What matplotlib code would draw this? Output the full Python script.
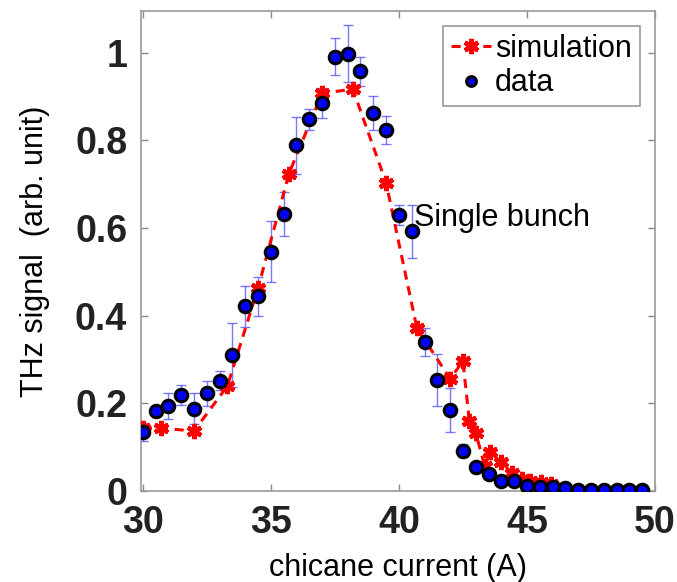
import numpy as np
import matplotlib.pyplot as plt

# measured data (chicane current in A, THz signal in arb. unit)
data_x = [30, 30.5, 31, 31.5, 32, 32.5, 33, 33.5, 34, 34.5,
          35, 35.5, 36, 36.5, 37, 37.5, 38, 38.5, 39, 39.5,
          40, 40.5, 41, 41.5, 42, 42.5, 43, 43.5, 44, 44.5,
          45, 45.5, 46, 46.5, 47, 47.5, 48, 48.5, 49, 49.5]
data_y = [0.135, 0.183, 0.194, 0.219, 0.188, 0.223, 0.252, 0.310, 0.421, 0.444,
          0.546, 0.631, 0.789, 0.848, 0.886, 0.991, 0.998, 0.958, 0.863, 0.823,
          0.630, 0.592, 0.339, 0.253, 0.185, 0.092, 0.054, 0.039, 0.023, 0.023,
          0.012, 0.008, 0.008, 0.006, 0.003, 0.003, 0.003, 0.003, 0.003, 0.003]
data_err = [0.021, 0.006, 0.030, 0.022, 0.036, 0.028, 0.021, 0.073, 0.047, 0.045,
            0.070, 0.050, 0.065, 0.024, 0.034, 0.042, 0.066, 0.033, 0.039, 0.032,
            0.023, 0.060, 0.032, 0.060, 0.051, 0.015, 0.013, 0.004, 0.003, 0.003,
            0.002, 0.002, 0.002, 0.002, 0.001, 0.001, 0.001, 0.001, 0.001, 0.001]

# simulation
sim_x = [30, 30.7, 32, 33.3, 34.5, 35.7, 37, 38.2, 39.5, 40.7,
         42, 42.5, 42.75, 43.0, 43.35, 43.57, 43.97, 44.4, 44.8, 45.1, 45.55, 45.95]
sim_y = [0.143, 0.143, 0.137, 0.239, 0.463, 0.723, 0.907, 0.917, 0.703, 0.372,
         0.256, 0.296, 0.160, 0.133, 0.057, 0.090, 0.066, 0.042, 0.027, 0.023, 0.020, 0.016]

yticks = [0, 0.2, 0.4, 0.6, 0.8, 1]
ytick_labels = ['0', '0.2', '0.4', '0.6', '0.8', '1']
xticks = [30, 35, 40, 45, 50]

plt.rcParams['font.family'] = ['Liberation Sans', 'DejaVu Sans']

fig = plt.figure(figsize=(6.77, 5.82), dpi=100)
ax = fig.add_axes([0.2083, 0.1564, 0.7592, 0.8247])

ax.errorbar(data_x, data_y, yerr=data_err, fmt='none', ecolor='#4a4aff',
            elinewidth=1.0, capsize=3.5, capthick=1.0, alpha=0.75, zorder=2)
ax.plot(sim_x, sim_y, color='red', linestyle='--', linewidth=2.2, dashes=(3, 2.2),
        marker=(6, 2, 0), markersize=11, markeredgewidth=3.2, zorder=3,
        label='simulation')
ax.plot(data_x, data_y, linestyle='none', marker='o', markersize=9,
        markerfacecolor='#0000ff', markeredgecolor='black', markeredgewidth=2.2,
        zorder=4, label='data')

ax.text(40.6, 0.623, 'Single bunch', fontsize=22, ha='left', va='center')

ax.set_xlim(29.93, 50)
ax.set_ylim(0, 1.095)
ax.set_xticks(xticks)
ax.set_yticks(yticks)
ax.set_yticklabels(ytick_labels)
for lbl in ax.get_xticklabels() + ax.get_yticklabels():
    lbl.set_fontweight('bold')
    lbl.set_fontsize(27)
    lbl.set_color('#222222')
ax.tick_params(direction='in', length=5, width=1, color='#888888',
               top=True, right=True, pad=10)
for sp in ax.spines.values():
    sp.set_color('#999999')
    sp.set_linewidth(1.2)

ax.set_xlabel('chicane current (A)', fontsize=22, labelpad=9)
ax.set_ylabel('THz signal  (arb. unit)', fontsize=22, labelpad=18)

leg = ax.legend(loc='upper right', fontsize=22, handlelength=1.3,
                handletextpad=0.15, borderpad=0.25, labelspacing=0.15,
                fancybox=False, framealpha=1, borderaxespad=0.5)
leg.get_frame().set_edgecolor('#999999')
leg.get_frame().set_linewidth(1.2)
leg.legend_handles[1].set_markersize(7)

fig.savefig('out.png', dpi=100)
